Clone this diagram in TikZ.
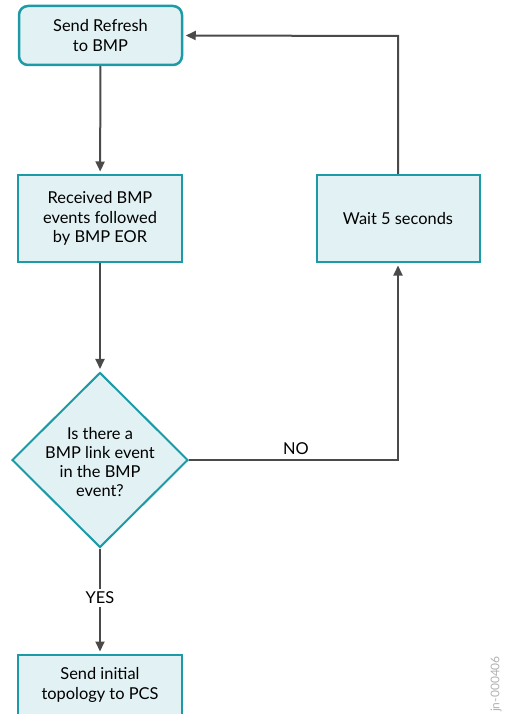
\documentclass[tikz,border=0pt]{standalone}
\usepackage{fontspec}
\setmainfont{Lato}
\usetikzlibrary{shapes.geometric,arrows.meta}
\definecolor{teal1}{HTML}{1C9AA6}
\definecolor{fillc}{HTML}{E2F1F4}
\definecolor{linec}{HTML}{4A4A4A}
\tikzset{
  boxst/.style={draw=teal1,line width=2pt,fill=fillc,minimum width=164pt,inner sep=0pt,align=center,font=\fontsize{16.4}{19.5}\selectfont},
  conn/.style={draw=linec,line width=2pt,line join=miter,-{Triangle[width=9pt,length=10pt]},shorten >=2.5pt},
  lbl/.style={font=\fontsize{16.4}{19}\selectfont,inner sep=1pt}
}
\begin{document}
\begin{tikzpicture}[x=1pt,y=-1pt]
\useasboundingbox (0,0) rectangle (504,714);
\node[boxst,rounded corners=9pt,line width=2.5pt,minimum width=163pt,minimum height=59pt] (b1) at (100.5,35.5) {Send Refresh\\to BMP};
\node[boxst,minimum height=87pt] (b2) at (100,218.5) {Received BMP\\events followed\\by BMP EOR};
\node[draw=teal1,line width=2pt,fill=fillc,shape=diamond,minimum width=176pt,minimum height=175pt,inner sep=0pt] (d) at (100,460) {};
\node[align=center,font=\fontsize{16.4}{19}\selectfont] (dt) at (100,462) {Is there a\\BMP link event\\in the BMP\\event?};
\node[boxst,minimum width=163pt,minimum height=87pt] (w) at (398,218.5) {Wait 5 seconds};
\node[boxst,minimum height=60pt] (b4) at (100,685) {Send initial\\topology to PCS};
\coordinate (c1) at (398,36);
\coordinate (c2) at (398,460);
\draw[conn] (b1) -- (b2);
\draw[conn] (b2) -- (d);
\draw[conn] (d) -- (b4);
\node[lbl,fill=white,inner sep=3pt] (yes) at (100,598) {YES};
\draw[conn] (d.east) -- (c2) -- (w.south);
\draw[conn] (w.north) -- (c1) -- (b1.east);
\node[lbl] (no) at (296,449) {NO};
\node[rotate=90,text=gray!60,font=\fontsize{12}{13}\selectfont,inner sep=0pt] (wm) at (496,684) {jn-000406};
\end{tikzpicture}
\end{document}
